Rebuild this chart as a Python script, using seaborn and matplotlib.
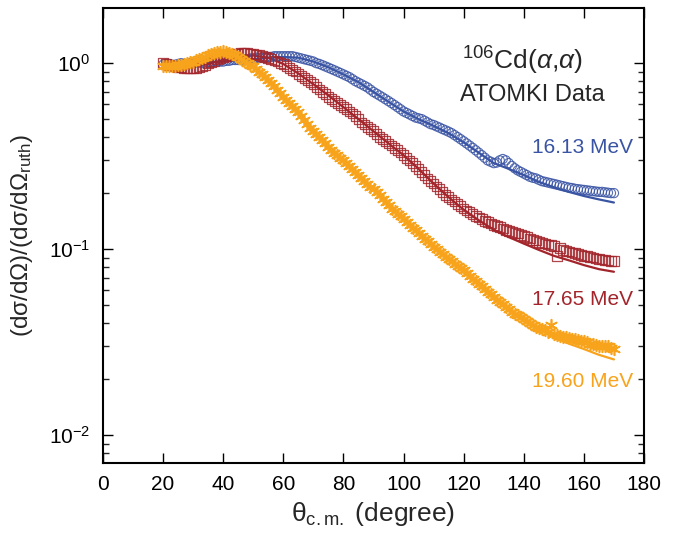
import numpy as np
import pandas as pd
import matplotlib
matplotlib.use("Agg")
import matplotlib.pyplot as plt
import seaborn as sns

# ---------------- data ----------------
theta_data = list(range(20, 171))

ratio_1613 = [
    0.98, 0.99, 0.99, 0.98, 0.98, 0.99, 1.00, 0.99, 0.99, 1.00,
    1.00, 1.01, 1.01, 1.00, 1.00, 1.01, 1.01, 1.02, 1.02, 1.02,
    1.02, 1.03, 1.03, 1.04, 1.04, 1.04, 1.04, 1.05, 1.05, 1.06,
    1.06, 1.07, 1.07, 1.07, 1.07, 1.08, 1.08, 1.09, 1.09, 1.09,
    1.09, 1.09, 1.09, 1.09, 1.08, 1.07, 1.06, 1.05, 1.04, 1.03,
    1.02, 1.00, 0.99, 0.975, 0.96, 0.945, 0.93, 0.915, 0.90, 0.885,
    0.87, 0.855, 0.84, 0.82, 0.80, 0.785, 0.77, 0.755, 0.74, 0.72,
    0.70, 0.685, 0.67, 0.655, 0.64, 0.625, 0.61, 0.595, 0.58, 0.565,
    0.55, 0.54, 0.53, 0.52, 0.51, 0.505, 0.50, 0.49, 0.48, 0.47,
    0.465, 0.457, 0.45, 0.442, 0.435, 0.428, 0.42, 0.41, 0.40, 0.39,
    0.38, 0.37, 0.36, 0.35, 0.34, 0.33, 0.32, 0.31, 0.30, 0.295,
    0.29, 0.292, 0.30, 0.305, 0.30, 0.29, 0.28, 0.272, 0.265, 0.26,
    0.255, 0.25, 0.245, 0.242, 0.24, 0.236, 0.232, 0.23, 0.228, 0.226,
    0.224, 0.222, 0.22, 0.218, 0.216, 0.214, 0.213, 0.211, 0.21, 0.209,
    0.208, 0.207, 0.206, 0.205, 0.204, 0.203, 0.203, 0.202, 0.201, 0.200,
    0.200]

ratio_1765 = [
    1.00, 0.99, 0.98, 0.97, 0.96, 0.955, 0.95, 0.945, 0.94, 0.94,
    0.94, 0.945, 0.95, 0.965, 0.98, 0.995, 1.01, 1.03, 1.05, 1.065,
    1.08, 1.09, 1.10, 1.11, 1.12, 1.125, 1.13, 1.13, 1.13, 1.125,
    1.12, 1.115, 1.11, 1.095, 1.08, 1.065, 1.05, 1.035, 1.02, 1.005,
    0.99, 0.965, 0.94, 0.92, 0.90, 0.875, 0.85, 0.83, 0.81, 0.79,
    0.77, 0.745, 0.72, 0.70, 0.68, 0.66, 0.64, 0.625, 0.61, 0.595,
    0.58, 0.565, 0.55, 0.535, 0.52, 0.50, 0.48, 0.467, 0.455, 0.442,
    0.43, 0.415, 0.40, 0.39, 0.38, 0.37, 0.36, 0.35, 0.34, 0.33,
    0.32, 0.31, 0.30, 0.29, 0.28, 0.27, 0.26, 0.25, 0.24, 0.232,
    0.225, 0.217, 0.21, 0.202, 0.195, 0.19, 0.185, 0.18, 0.175, 0.17,
    0.165, 0.161, 0.158, 0.154, 0.151, 0.148, 0.145, 0.142, 0.14, 0.137,
    0.135, 0.133, 0.131, 0.129, 0.127, 0.125, 0.124, 0.122, 0.121, 0.119,
    0.118, 0.116, 0.114, 0.112, 0.111, 0.109, 0.108, 0.107, 0.106, 0.105,
    0.104, 0.092, 0.101, 0.099, 0.098, 0.097, 0.096, 0.095, 0.094, 0.093,
    0.092, 0.0915, 0.091, 0.090, 0.089, 0.0885, 0.088, 0.0875, 0.087, 0.0865,
    0.086]

ratio_1960 = [
    0.97, 0.96, 0.96, 0.965, 0.97, 0.975, 0.98, 0.99, 1.00, 1.01,
    1.02, 1.035, 1.05, 1.065, 1.08, 1.10, 1.12, 1.135, 1.15, 1.155,
    1.16, 1.15, 1.14, 1.12, 1.10, 1.075, 1.05, 1.025, 1.00, 0.98,
    0.96, 0.93, 0.90, 0.87, 0.84, 0.81, 0.78, 0.75, 0.72, 0.69,
    0.66, 0.635, 0.61, 0.59, 0.57, 0.545, 0.52, 0.495, 0.47, 0.45,
    0.43, 0.415, 0.40, 0.385, 0.37, 0.355, 0.34, 0.33, 0.32, 0.31,
    0.30, 0.29, 0.28, 0.27, 0.26, 0.25, 0.24, 0.232, 0.225, 0.217,
    0.21, 0.202, 0.195, 0.187, 0.18, 0.172, 0.165, 0.16, 0.155, 0.15,
    0.145, 0.14, 0.135, 0.13, 0.126, 0.122, 0.118, 0.114, 0.11, 0.106,
    0.103, 0.10, 0.097, 0.094, 0.091, 0.088, 0.086, 0.083, 0.081, 0.079,
    0.077, 0.074, 0.072, 0.069, 0.067, 0.065, 0.063, 0.061, 0.059, 0.057,
    0.055, 0.0535, 0.052, 0.0505, 0.049, 0.0475, 0.046, 0.045, 0.044, 0.043,
    0.042, 0.041, 0.040, 0.039, 0.038, 0.0375, 0.037, 0.0365, 0.036, 0.039,
    0.035, 0.0345, 0.034, 0.0337, 0.0335, 0.0332, 0.033, 0.0327, 0.0325, 0.0322,
    0.032, 0.0315, 0.031, 0.0307, 0.0305, 0.0302, 0.030, 0.030, 0.030, 0.0295,
    0.029]

theta_model = list(range(20, 171, 5))
model_1613 = [1.0, 1.0, 1.0, 1.01, 1.02, 1.03, 1.05, 1.07, 1.08, 1.07,
              1.02, 0.95, 0.87, 0.79, 0.70, 0.62, 0.55, 0.50, 0.46, 0.42,
              0.375, 0.33, 0.29, 0.27, 0.25, 0.23, 0.215, 0.203, 0.193, 0.185,
              0.178]
model_1765 = [1.0, 0.98, 0.97, 0.99, 1.04, 1.08, 1.10, 1.07, 0.99, 0.88,
              0.77, 0.67, 0.58, 0.50, 0.43, 0.37, 0.32, 0.27, 0.225, 0.19,
              0.163, 0.143, 0.127, 0.116, 0.107, 0.099, 0.092, 0.087, 0.082, 0.078,
              0.0755]
model_1960 = [1.0, 0.99, 1.02, 1.08, 1.12, 1.07, 0.95, 0.81, 0.66, 0.545,
              0.44, 0.36, 0.30, 0.25, 0.21, 0.175, 0.145, 0.122, 0.103, 0.088,
              0.075, 0.064, 0.054, 0.047, 0.041, 0.037, 0.0335, 0.031, 0.029, 0.027,
              0.0255]

energy_labels = ["16.13 MeV", "17.65 MeV", "19.60 MeV"]
x_ticks = [0, 20, 40, 60, 80, 100, 120, 140, 160, 180]

# ---------------- style ----------------
sns.set_theme(style="ticks")
plt.rcParams["font.family"] = ["Liberation Sans", "DejaVu Sans"]
plt.rcParams["mathtext.fontset"] = "custom"
plt.rcParams["mathtext.rm"] = "Liberation Sans"
plt.rcParams["mathtext.it"] = "Liberation Sans:italic"
plt.rcParams["mathtext.bf"] = "Liberation Sans:bold"

BLUE = "#3a54a4"
RED = "#a3252b"
ORANGE = "#f8a31c"

fig = plt.figure(figsize=(6.78, 5.38), dpi=100)
ax = fig.add_axes([103 / 678, 75 / 538, 541 / 678, 455 / 538])
ax.set_yscale("log")

df_data = pd.DataFrame({"theta": theta_data, "r1613": ratio_1613,
                        "r1765": ratio_1765, "r1960": ratio_1960})
df_model = pd.DataFrame({"theta": theta_model, "m1613": model_1613,
                         "m1765": model_1765, "m1960": model_1960})

# model curves
sns.lineplot(data=df_model, x="theta", y="m1613", ax=ax, color=BLUE, lw=1.6, zorder=2)
sns.lineplot(data=df_model, x="theta", y="m1765", ax=ax, color=RED, lw=1.6, zorder=2)
sns.lineplot(data=df_model, x="theta", y="m1960", ax=ax, color=ORANGE, lw=1.6, zorder=2)

# data points
sns.scatterplot(data=df_data, x="theta", y="r1613", ax=ax, marker="o", s=44,
                facecolor="none", edgecolor=BLUE, linewidth=0.8, alpha=0.85, zorder=3)
sns.scatterplot(data=df_data, x="theta", y="r1765", ax=ax, marker="s", s=48,
                facecolor="none", edgecolor=RED, linewidth=0.9, alpha=0.85, zorder=3)
sns.scatterplot(data=df_data, x="theta", y="r1960", ax=ax, marker=(6, 2, 0), s=70,
                color=ORANGE, linewidth=1.2, zorder=4)

ax.set_xlim(0, 180)
ax.set_ylim(0.00707, 1.98)
ax.set_xticks(x_ticks)
ax.set_xticklabels([str(t) for t in x_ticks])

for side in ["left", "right", "top", "bottom"]:
    ax.spines[side].set_visible(True)
    ax.spines[side].set_linewidth(1.5)
    ax.spines[side].set_color("black")

ax.tick_params(axis="both", which="major", direction="in", length=7, width=1.0,
               top=True, right=True, labelsize=15, colors="black", pad=9)
ax.tick_params(axis="y", which="minor", direction="in", length=4, width=1.0,
               left=True, right=True)
ax.tick_params(axis="x", which="minor", bottom=False, top=False)

ax.set_xlabel(r"θ$_{\mathrm{c.m.}}$ (degree)", fontsize=19, labelpad=4)
ax.set_ylabel(r"(dσ/dΩ)/(dσ/dΩ$_{\mathrm{ruth}}$)", fontsize=17.5, labelpad=10)

ax.text(0.775, 0.864, r"$^{106}$Cd($\alpha$,$\alpha$)", transform=ax.transAxes,
        ha="center", va="baseline", fontsize=19)
ax.text(0.793, 0.796, "ATOMKI Data", transform=ax.transAxes,
        ha="center", va="baseline", fontsize=17)
ax.text(0.98, 0.681, energy_labels[0], transform=ax.transAxes,
        ha="right", va="baseline", fontsize=15, color=BLUE)
ax.text(0.98, 0.347, energy_labels[1], transform=ax.transAxes,
        ha="right", va="baseline", fontsize=15, color=RED)
ax.text(0.98, 0.167, energy_labels[2], transform=ax.transAxes,
        ha="right", va="baseline", fontsize=15, color=ORANGE)

fig.savefig("out.png", dpi=100)
